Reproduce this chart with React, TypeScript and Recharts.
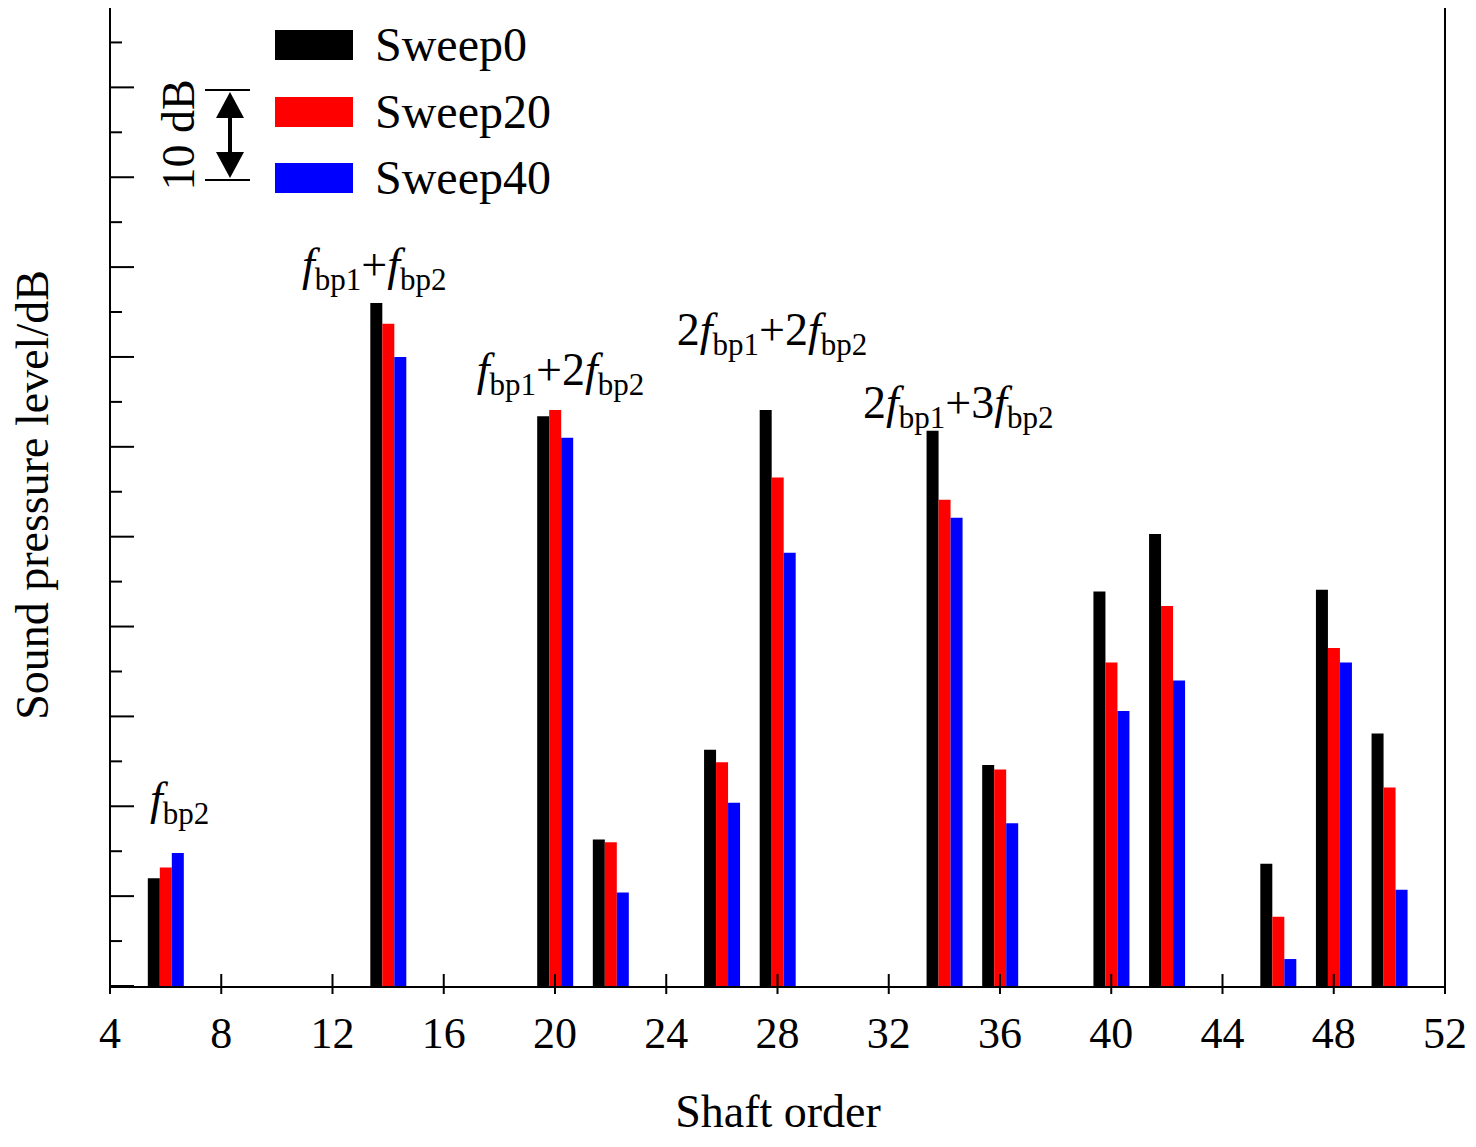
import { BarChart, Bar, XAxis, YAxis, ReferenceDot } from 'recharts';

const orders = [6, 14, 20, 22, 26, 28, 34, 36, 40, 42, 46, 48, 50];
const sweep0 = [12.0, 76.0, 63.4, 16.3, 26.3, 64.1, 61.8, 24.6, 43.9, 50.3, 13.6, 44.1, 28.1];
const sweep20 = [13.2, 73.7, 64.1, 16.0, 24.9, 56.6, 54.1, 24.1, 36.0, 42.3, 7.7, 37.6, 22.1];
const sweep40 = [14.8, 70.0, 61.0, 10.4, 20.4, 48.2, 52.1, 18.1, 30.6, 34.0, 3.0, 36.0, 10.7];
const xTicks = [4, 8, 12, 16, 20, 24, 28, 32, 36, 40, 44, 48, 52];
const yTicks = Array.from({ length: 22 }, (_, i) => i * 5);

const data = orders.map((o, i) => ({ order: o, s0: sweep0[i], s20: sweep20[i], s40: sweep40[i] }));

const font = '"Times New Roman", "Liberation Serif", serif';

// annotation: [x, y, parts]; parts: [text, italic?, sub?]
const notes: [number, number, [string, boolean, boolean][]][] = [
  [6.5, 19.1, [['f', true, false], ['bp2', false, true]]],
  [13.5, 78.6, [['f', true, false], ['bp1', false, true], ['+', false, false], ['f', true, false], ['bp2', false, true]]],
  [20.2, 66.9, [['f', true, false], ['bp1', false, true], ['+2', false, false], ['f', true, false], ['bp2', false, true]]],
  [27.8, 71.3, [['2', false, false], ['f', true, false], ['bp1', false, true], ['+2', false, false], ['f', true, false], ['bp2', false, true]]],
  [34.5, 63.2, [['2', false, false], ['f', true, false], ['bp1', false, true], ['+3', false, false], ['f', true, false], ['bp2', false, true]]],
];

const Note = ({ viewBox, parts }: any) => {
  const cx = viewBox.x + (viewBox.width || 0) / 2;
  const cy = viewBox.y + (viewBox.height || 0) / 2;
  let shift = 0;
  return (
    <text x={cx} y={cy} textAnchor="middle" fontFamily={font} fontSize={46} fill="#000">
      {parts.map(([t, it, sub]: any, i: number) => {
        const dy = (sub ? 10 : 0) - shift;
        shift = sub ? 10 : 0;
        return (
          <tspan key={i} dy={dy} fontStyle={it ? 'italic' : 'normal'} fontSize={sub ? 31 : 46}>{t}</tspan>
        );
      })}
    </text>
  );
};

const XTick = ({ x, y, payload }: any) => (
  <g>
    <line x1={x} x2={x} y1={y} y2={y - 20} stroke="#000" strokeWidth={2} />
    <text x={x} y={y + 54} textAnchor="middle" fontFamily={font} fontSize={44} fill="#000">{payload.value}</text>
  </g>
);

const YTick = ({ y, payload }: any) => (
  <line x1={110} x2={110 + (payload.value % 10 === 0 ? 24 : 12)} y1={y} y2={y} stroke="#000" strokeWidth={2} />
);

const legend = [['Sweep0', '#000000', 30], ['Sweep20', '#ff0000', 97], ['Sweep40', '#0000ff', 163]] as const;

export default function App() {
  return (
    <div style={{ margin: -8, position: 'relative', width: 1476, height: 1147, background: '#fff' }}>
      <BarChart width={1476} height={1147} data={data} margin={{ top: 2, left: 109, right: 31, bottom: 160 }} barGap={0} barSize={12}>
        <XAxis dataKey="order" type="number" domain={[4, 52]} ticks={xTicks} tick={<XTick />} tickLine={false}
          height={1} axisLine={false} interval={0} allowDataOverflow />
        <YAxis type="number" domain={[0, 109.5]} ticks={yTicks} width={1} tick={<YTick />} tickLine={false}
          axisLine={false} interval={0} allowDataOverflow />
        <Bar dataKey="s0" fill="#000000" isAnimationActive={false} />
        <Bar dataKey="s20" fill="#ff0000" isAnimationActive={false} />
        <Bar dataKey="s40" fill="#0000ff" isAnimationActive={false} />
        {notes.map(([x, y, parts], i) => (
          <ReferenceDot key={i} x={x} y={y} r={0} fill="none" stroke="none" label={<Note parts={parts} />} />
        ))}
      </BarChart>
      <svg width={1476} height={1147} style={{ position: 'absolute', left: 0, top: 0, pointerEvents: 'none' }}>
        <rect x={110} y={2} width={1335} height={985} fill="none" stroke="#000" strokeWidth={2} />
        {legend.map(([name, color, top]) => (
          <g key={name}>
            <rect x={275} y={top} width={78} height={30} fill={color} />
            <text x={375} y={top + 31} fontFamily={font} fontSize={48} fill="#000">{name}</text>
          </g>
        ))}
        <line x1={205} x2={250} y1={90} y2={90} stroke="#000" strokeWidth={2} />
        <line x1={205} x2={250} y1={180} y2={180} stroke="#000" strokeWidth={2} />
        <line x1={230} x2={230} y1={110} y2={162} stroke="#000" strokeWidth={4} />
        <polygon points="230,92 216,118 244,118" fill="#000" />
        <polygon points="230,178 216,152 244,152" fill="#000" />
        <text transform="translate(194,135) rotate(-90)" textAnchor="middle" fontFamily={font} fontSize={46} fill="#000">10 dB</text>
        <text transform="translate(48,495) rotate(-90)" textAnchor="middle" fontFamily={font} fontSize={46} fill="#000">Sound pressure level/dB</text>
        <text x={778} y={1127} textAnchor="middle" fontFamily={font} fontSize={46} fill="#000">Shaft order</text>
      </svg>
    </div>
  );
}
